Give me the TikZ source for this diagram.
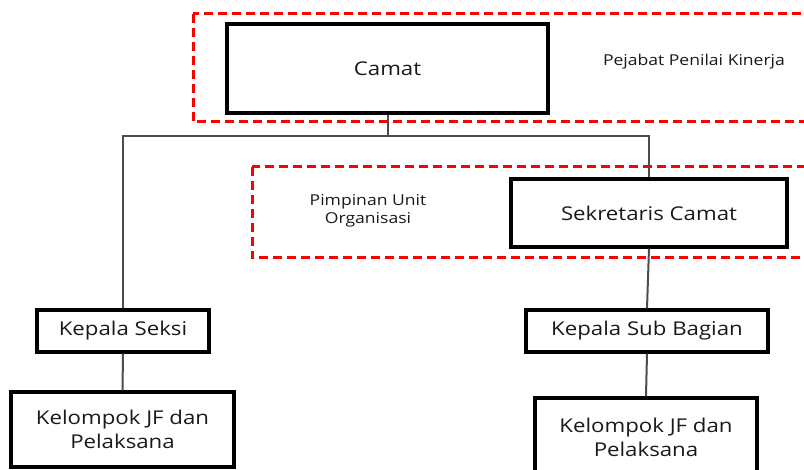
\documentclass[tikz,border=0pt]{standalone}
\usepackage{fontspec}
\setmainfont{Open Sans}[FakeStretch=1.17]
\begin{document}
\begin{tikzpicture}[x=1pt,y=-1pt,
  box/.style={draw=black, line width=3.2pt, inner sep=0pt, align=center,
    text=black!90, font=\fontsize{19}{24}\selectfont},
  zone/.style={draw=red, line width=3pt, dash pattern=on 9pt off 5pt},
  link/.style={draw=black!70, line width=2pt, line join=miter},
  note/.style={inner sep=0pt, align=center, text=black!90,
    font=\fontsize{15}{18}\selectfont}]
  \useasboundingbox (0,0) rectangle (804,470);
  \clip (0,0) rectangle (804,470);

  % dashed zones
  \draw[zone] (193,14) rectangle (830,122);
  \draw[zone] (252,167) rectangle (830,258);

  % boxes
  \node[box, minimum width=321pt, minimum height=89pt] (camat) at (387.5,68.5) {Camat};
  \node[box, minimum width=276pt, minimum height=68pt] (sekcam) at (649,213) {Sekretaris Camat};
  \node[box, minimum width=172pt, minimum height=42pt] (seksi) at (123,331) {Kepala Seksi};
  \node[box, minimum width=242pt, minimum height=42pt] (subbag) at (647,331) {Kepala Sub Bagian};
  \node[box, minimum width=223pt, minimum height=75pt] (kelA) at (122.5,429.5) {Kelompok JF dan\\Pelaksana};
  \node[box, minimum width=222pt, minimum height=78pt] (kelB) at (646,437) {Kelompok JF dan\\Pelaksana};

  % zone labels
  \node[note] (ppk) at (694,62) {Pejabat Penilai Kinerja};
  \node[note] (puo) at (368,211) {Pimpinan Unit\\Organisasi};

  % connectors
  \coordinate (bus) at (0,136);
  \draw[link] (camat.south) -- (camat.south |- bus);
  \draw[link] (seksi.north) -- (seksi.north |- bus) -- (sekcam.north |- bus) -- (sekcam.north);
  \draw[link] (sekcam.south) -- (subbag.north);
  \draw[link] (seksi.south) -- (kelA.north);
  \draw[link] (subbag.south) -- (kelB.north);
\end{tikzpicture}
\end{document}
